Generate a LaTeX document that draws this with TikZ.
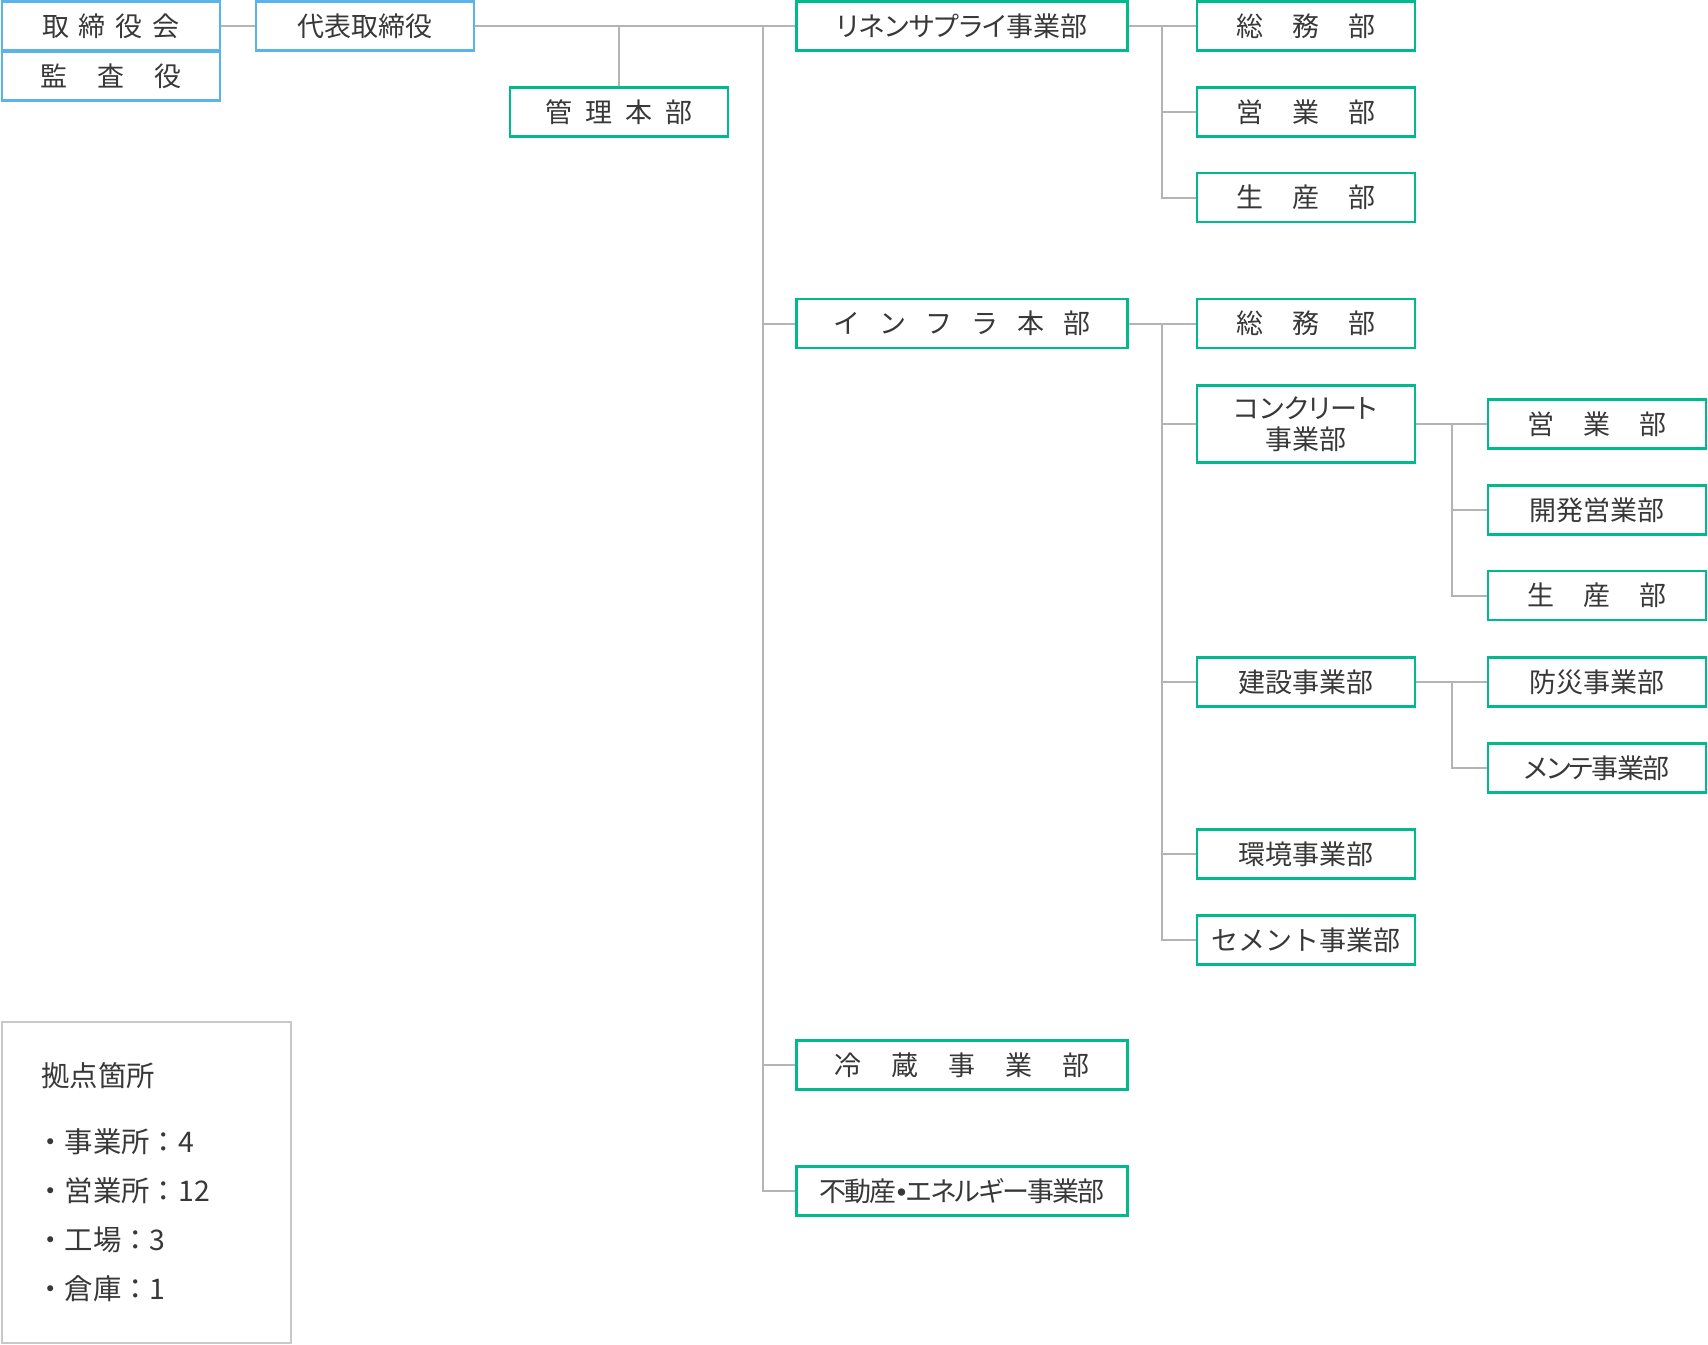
\documentclass[tikz,border=0pt]{standalone}
\usepackage{fontspec}
\setmainfont{Noto Sans CJK JP}
\newfontfamily\pfont{Noto Sans CJK JP}[RawFeature=+palt]
\newfontfamily\ptfont{Noto Sans CJK JP}[RawFeature=+palt,LetterSpace=-6]
\newfontfamily\bulfont{Liberation Sans}
\usetikzlibrary{calc}
\definecolor{grn}{HTML}{00BA8D}
\definecolor{blu}{HTML}{5AB4E8}
\definecolor{lin}{HTML}{B4B4B4}
\definecolor{legc}{HTML}{C8C8C8}
\definecolor{txt}{HTML}{383838}
\newcommand\gp[1]{\hspace{#1pt}}
\begin{document}
\begin{tikzpicture}[x=0.5pt,y=-0.5pt,
  box/.style={draw=grn,line width=1.2pt,minimum width=109pt,minimum height=24.5pt,inner sep=0pt,text=txt,
    font=\fontsize{13.5pt}{15.3pt}\selectfont,align=center},
  wbox/.style={box,minimum width=165.5pt},
  bbox/.style={box,draw=blu},
  conn/.style={draw=lin,line width=1pt},
  ltext/.style={anchor=west,inner sep=0pt,text=txt,font=\fontsize{14.2pt}{16pt}\selectfont}]
\useasboundingbox (0,0) rectangle (1708,1344);
% top left
\node[bbox] (tori) at (111,26) {取\gp5締\gp5役\gp5会};
\node[bbox] (kansa) at (111,76) {監\gp{15}査\gp{15}役};
\node[bbox] (daihyo) at (365,26) {代表取締役};
\node[box] (kanri) at (619,112) {管\gp{6.5}理\gp{6.5}本\gp{6.5}部};
% level 2
\node[wbox] (linen) at (962,26) {\pfont リネンサプライ事業部};
\node[wbox] (infra) at (962,323.5) {イ\gp{9.5}ン\gp{9.5}フ\gp{9.5}ラ\gp{9.5}本\gp{9.5}部};
\node[wbox] (reizo) at (962,1065) {冷\gp{15}蔵\gp{15}事\gp{15}業\gp{15}部};
\node[wbox] (fudo) at (962,1191) {\ptfont 不動産{\bulfont •}エネルギー事業部};
% linen children
\node[box] (l1) at (1306,26) {総\gp{14.5}務\gp{14.5}部};
\node[box] (l2) at (1306,112) {営\gp{14.5}業\gp{14.5}部};
\node[box] (l3) at (1306,197.5) {生\gp{14.5}産\gp{14.5}部};
% infra children
\node[box] (i1) at (1306,323.5) {総\gp{14.5}務\gp{14.5}部};
\node[box,minimum height=38.5pt] (i2) at (1306,424) {\pfont コンクリート\\\pfont 事業部};
\node[box] (i3) at (1306,682) {建設事業部};
\node[box] (i4) at (1306,854) {環境事業部};
\node[box] (i5) at (1306,940) {セメント事業部};
% concrete children
\node[box] (c1) at (1597,424) {営\gp{14.5}業\gp{14.5}部};
\node[box] (c2) at (1597,510) {開発営業部};
\node[box] (c3) at (1597,595.5) {生\gp{14.5}産\gp{14.5}部};
% kensetsu children
\node[box] (k1) at (1597,682) {防災事業部};
\node[box] (k2) at (1597,768) {\ptfont メンテ事業部};
% connectors
\draw[conn] (tori.east) -- (daihyo.west);
\draw[conn] (daihyo.east) -- (linen.west);
\draw[conn] (kanri.north) -- (kanri.north |- daihyo.east);
\coordinate (bus) at (763,26);
\draw[conn] (bus) |- (fudo.west);
\draw[conn] (bus |- infra.west) -- (infra.west);
\draw[conn] (bus |- reizo.west) -- (reizo.west);
\coordinate (lbus) at ($(linen.east)!0.5!(l1.west)$);
\draw[conn] (linen.east) -- (l1.west);
\draw[conn] (lbus) |- (l3.west);
\draw[conn] (lbus |- l2.west) -- (l2.west);
\coordinate (ibus) at ($(infra.east)!0.5!(i1.west)$);
\draw[conn] (infra.east) -- (i1.west);
\draw[conn] (ibus) |- (i5.west);
\foreach \n in {i2,i3,i4} \draw[conn] (ibus |- \n.west) -- (\n.west);
\coordinate (cbus) at ($(i2.east)!0.5!(c1.west)$);
\draw[conn] (i2.east) -- (c1.west);
\draw[conn] (cbus) |- (c3.west);
\draw[conn] (cbus |- c2.west) -- (c2.west);
\coordinate (kbus) at ($(i3.east)!0.5!(k1.west)$);
\draw[conn] (i3.east) -- (k1.west);
\draw[conn] (kbus) |- (k2.west);
% legend
\node[draw=legc,line width=1pt,minimum width=144.5pt,minimum height=160.5pt,anchor=north west,inner sep=0pt] (legend) at (1,1021) {};
\node[ltext] (lt) at (41,1076) {拠点箇所};
\node[ltext] (lt1) at (36,1142) {・事業所：4};
\node[ltext] (lt2) at (36,1191) {・営業所：12};
\node[ltext] (lt3) at (36,1240) {・工場：3};
\node[ltext] (lt4) at (36,1289) {・倉庫：1};
\end{tikzpicture}
\end{document}
